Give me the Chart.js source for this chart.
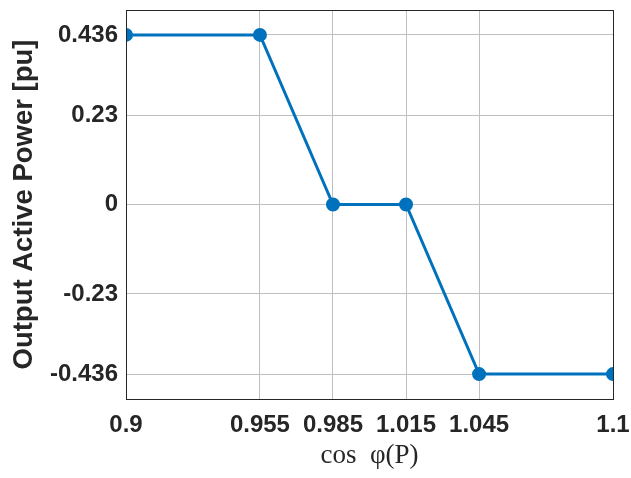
<!DOCTYPE html>
<html>
<head>
<meta charset="utf-8">
<script src="https://cdn.jsdelivr.net/npm/chart.js@4"></script>
<style>
  html, body { margin: 0; padding: 0; background: #fff; }
  #wrap { width: 631px; height: 478px; }
</style>
</head>
<body>
<div id="wrap"><canvas id="c" width="631" height="478"></canvas></div>
<script>
const powerFactor = [0.9, 0.955, 0.985, 1.015, 1.045, 1.1];
const outputPower = [0.436, 0.436, 0, 0, -0.436, -0.436];
const xTicks = [0.9, 0.955, 0.985, 1.015, 1.045, 1.1];
const yTicks = [-0.436, -0.23, 0, 0.23, 0.436];

const lineColor = '#0072BD';
const axisColor = '#262626';

// box around the plot area, like matlab's "box on"
const boxPlugin = {
  id: 'box',
  afterDraw(chart) {
    const {ctx, chartArea: a} = chart;
    ctx.save();
    ctx.strokeStyle = axisColor;
    ctx.lineWidth = 1;
    ctx.strokeRect(a.left + 0.5, a.top + 0.5, a.right - a.left, a.bottom - a.top);
    ctx.restore();
  }
};

new Chart(document.getElementById('c').getContext('2d'), {
  type: 'line',
  data: {
    datasets: [{
      data: powerFactor.map((x, i) => ({x, y: outputPower[i]})),
      borderColor: lineColor,
      backgroundColor: lineColor,
      borderWidth: 3,
      pointRadius: 5.5,
      pointHoverRadius: 5.5,
      fill: false,
      tension: 0,
    }]
  },
  options: {
    responsive: false,
    animation: false,
    layout: { padding: { top: 10, right: 18, left: 0, bottom: 0 } },
    plugins: { legend: { display: false }, tooltip: { enabled: false } },
    scales: {
      x: {
        type: 'linear',
        min: 0.9,
        max: 1.1,
        afterBuildTicks: scale => { scale.ticks = xTicks.map(v => ({value: v})); },
        afterFit: scale => { scale.height = 79; scale.paddingLeft = 0; scale.paddingRight = 0; },
        ticks: {
          color: axisColor,
          font: { family: 'Liberation Sans', size: 24, weight: 'bold' },
          padding: 12,
          maxRotation: 0,
          autoSkip: false,
          callback: v => String(v),
        },
        grid: { color: '#c0c0c0', tickLength: 0 },
        border: { color: axisColor },
        title: {
          display: true,
          text: 'cos\u2002\u03C6(P)',
          color: axisColor,
          font: { family: 'Liberation Serif', size: 27 },
          padding: { top: 0, bottom: 6 },
        },
      },
      y: {
        type: 'linear',
        min: -0.5,
        max: 0.5,
        afterBuildTicks: scale => { scale.ticks = yTicks.map(v => ({value: v})); },
        afterFit: scale => { scale.width = 126; scale.paddingTop = 0; scale.paddingBottom = 0; },
        ticks: {
          color: axisColor,
          font: { family: 'Liberation Sans', size: 24, weight: 'bold' },
          padding: 8,
          autoSkip: false,
          callback: v => String(v),
        },
        grid: { color: '#c0c0c0', tickLength: 0 },
        border: { color: axisColor },
        title: {
          display: true,
          text: 'Output Active Power [pu]',
          color: axisColor,
          font: { family: 'Liberation Sans', size: 27.5, weight: 'bold' },
          padding: { top: 8, bottom: 0 },
        },
      },
    },
  },
  plugins: [boxPlugin],
});
</script>
</body>
</html>
